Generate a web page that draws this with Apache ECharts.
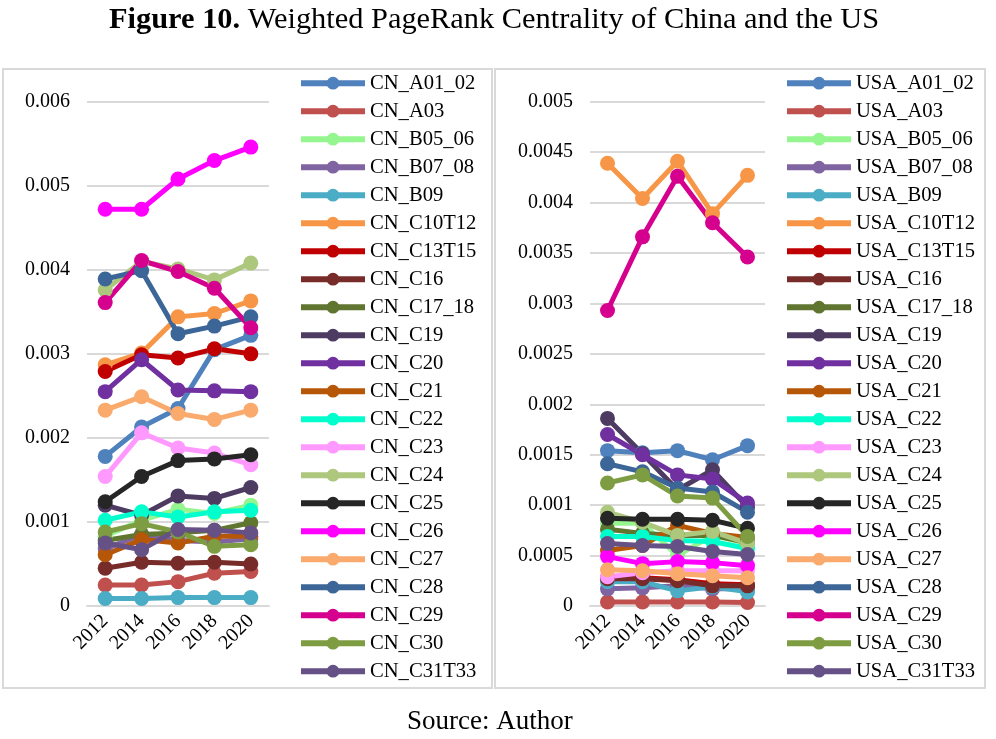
<!DOCTYPE html>
<html>
<head>
  <meta charset="UTF-8">
  <title>Weighted PageRank Centrality</title>
  <script src="https://cdn.jsdelivr.net/npm/echarts@6/dist/echarts.min.js"></script>
  <style>
    html, body { margin: 0; padding: 0; background: #fff; }
    #main { width: 996px; height: 739px; }
  </style>
</head>
<body>
<div id="main"></div>
<script type="text/javascript">
  // 年份
  var years = ['2012', '2014', '2016', '2018', '2020'];

  // 行业代码（两边一样，只是前缀不同）
  var sectors = ['A01_02', 'A03', 'B05_06', 'B07_08', 'B09', 'C10T12', 'C13T15', 'C16', 'C17_18', 'C19',
    'C20', 'C21', 'C22', 'C23', 'C24', 'C25', 'C26', 'C27', 'C28', 'C29', 'C30', 'C31T33'];

  var sectorColors = ['#4F81BD', '#C0504D', '#95F58F', '#8064A2', '#4BACC6', '#F79646', '#C00000', '#772C2A',
    '#5F7530', '#4D3B62', '#7030A0', '#B65708', '#00FFCC', '#FF99FF', '#ADC77D', '#262626',
    '#FF00FF', '#FAAA6C', '#3C6698', '#D6008F', '#7E9D42', '#665186'];

  // 中国 (x 0.001)
  var cnA01_02 = [1.78, 2.13, 2.35, 3.05, 3.22];
  var cnA03    = [0.25, 0.25, 0.29, 0.39, 0.41];
  var cnB05_06 = [0.83, 1.02, 1.15, 1.10, 1.20];
  var cnB07_08 = [0.68, 0.85, 0.78, 0.76, 0.80];
  var cnB09    = [0.09, 0.09, 0.10, 0.10, 0.10];
  var cnC10T12 = [2.87, 3.01, 3.44, 3.48, 3.63];
  var cnC13T15 = [2.79, 2.99, 2.95, 3.06, 3.00];
  var cnC16    = [0.45, 0.52, 0.51, 0.52, 0.50];
  var cnC17_18 = [0.78, 0.85, 0.87, 0.90, 0.99];
  var cnC19    = [1.20, 1.08, 1.31, 1.28, 1.41];
  var cnC20    = [2.55, 2.93, 2.57, 2.56, 2.55];
  var cnC21    = [0.61, 0.79, 0.75, 0.83, 0.83];
  var cnC22    = [1.02, 1.12, 1.06, 1.12, 1.14];
  var cnC23    = [1.54, 2.06, 1.88, 1.82, 1.68];
  var cnC24    = [3.76, 4.10, 4.01, 3.88, 4.08];
  var cnC25    = [1.24, 1.54, 1.73, 1.75, 1.80];
  var cnC26    = [4.72, 4.72, 5.08, 5.30, 5.46];
  var cnC27    = [2.33, 2.49, 2.29, 2.22, 2.33];
  var cnC28    = [3.89, 3.99, 3.24, 3.33, 3.44];
  var cnC29    = [3.61, 4.11, 3.98, 3.78, 3.31];
  var cnC30    = [0.88, 0.98, 0.88, 0.71, 0.73];
  var cnC31T33 = [0.75, 0.67, 0.91, 0.90, 0.87];

  // 美国 (x 0.001)
  var usA01_02 = [1.54, 1.52, 1.54, 1.45, 1.59];
  var usA03    = [0.04, 0.04, 0.04, 0.04, 0.035];
  var usB05_06 = [0.82, 0.82, 0.50, 0.70, 0.62];
  var usB07_08 = [0.17, 0.18, 0.20, 0.17, 0.17];
  var usB09    = [0.24, 0.24, 0.15, 0.19, 0.14];
  var usC10T12 = [4.39, 4.04, 4.41, 3.89, 4.27];
  var usC13T15 = [0.28, 0.28, 0.26, 0.22, 0.21];
  var usC16    = [0.27, 0.27, 0.25, 0.20, 0.20];
  var usC17_18 = [0.76, 0.72, 0.70, 0.70, 0.63];
  var usC19    = [1.86, 1.51, 1.15, 1.35, 0.98];
  var usC20    = [1.70, 1.50, 1.30, 1.26, 1.02];
  var usC21    = [0.55, 0.60, 0.80, 0.72, 0.68];
  var usC22    = [0.69, 0.69, 0.65, 0.64, 0.57];
  var usC23    = [0.29, 0.33, 0.35, 0.35, 0.35];
  var usC24    = [0.93, 0.83, 0.70, 0.74, 0.62];
  var usC25    = [0.87, 0.86, 0.86, 0.85, 0.77];
  var usC26    = [0.49, 0.42, 0.44, 0.43, 0.40];
  var usC27    = [0.36, 0.35, 0.32, 0.30, 0.28];
  var usC28    = [1.41, 1.33, 1.17, 1.13, 0.93];
  var usC29    = [2.93, 3.66, 4.26, 3.80, 3.46];
  var usC30    = [1.22, 1.30, 1.09, 1.07, 0.69];
  var usC31T33 = [0.62, 0.60, 0.59, 0.54, 0.51];

  var cnData = [cnA01_02, cnA03, cnB05_06, cnB07_08, cnB09, cnC10T12, cnC13T15, cnC16, cnC17_18, cnC19,
    cnC20, cnC21, cnC22, cnC23, cnC24, cnC25, cnC26, cnC27, cnC28, cnC29, cnC30, cnC31T33];
  var usData = [usA01_02, usA03, usB05_06, usB07_08, usB09, usC10T12, usC13T15, usC16, usC17_18, usC19,
    usC20, usC21, usC22, usC23, usC24, usC25, usC26, usC27, usC28, usC29, usC30, usC31T33];

  var serif = 'Liberation Serif';
  var myChart = echarts.init(document.getElementById('main'));

  function makeSeries(prefix, arr, idx) {
    return sectors.map(function (s, i) {
      return {
        name: prefix + s,
        type: 'line',
        xAxisIndex: idx,
        yAxisIndex: idx,
        symbol: 'circle',
        symbolSize: 15,
        color: sectorColors[i],
        lineStyle: { width: 5 },
        animation: false,
        data: arr[i].map(function (v) { return +(v / 1000).toFixed(6); })
      };
    });
  }

  function makeLegend(prefix, left) {
    return {
      orient: 'vertical',
      left: left,
      top: 72.7,
      padding: 0,
      itemWidth: 64,
      itemHeight: 16,
      itemGap: 7.0,
      lineStyle: { width: 6 },
      textStyle: { fontFamily: serif, fontSize: 20.6, color: '#000', lineHeight: 20 },
      data: sectors.map(function (s) { return prefix + s; })
    };
  }

  function yAxis(max, interval, gi) {
    return {
      type: 'value', gridIndex: gi, min: 0, max: max, interval: interval,
      axisLine: { show: false }, axisTick: { show: false },
      axisLabel: { fontFamily: serif, fontSize: 20, color: '#000', margin: 17 },
      splitLine: { lineStyle: { color: '#D9D9D9', width: 2 } }
    };
  }

  function xAxis(gi) {
    return {
      type: 'category', gridIndex: gi, data: years, boundaryGap: true,
      axisLine: { lineStyle: { color: '#D9D9D9', width: 2 } },
      axisTick: { show: false },
      axisLabel: { fontFamily: serif, fontSize: 20, color: '#000', rotate: 45, margin: 12, interval: 0 }
    };
  }

  var option = {
    backgroundColor: '#fff',
    title: [{
      text: '{b|Figure 10.} Weighted PageRank Centrality of China and the US',
      left: 104, top: 0,
      textStyle: {
        fontFamily: serif, fontSize: 30.4, fontWeight: 'normal', color: '#000',
        rich: { b: { fontFamily: serif, fontSize: 30.4, fontWeight: 'bold', color: '#000' } }
      }
    }, {
      text: 'Source: Author',
      left: 402, top: 703,
      textStyle: { fontFamily: serif, fontSize: 27, fontWeight: 'normal', color: '#000' }
    }],
    graphic: [
      { type: 'rect', shape: { x: 3, y: 69, width: 489, height: 619 }, style: { fill: 'none', stroke: '#D9D9D9', lineWidth: 2 } },
      { type: 'rect', shape: { x: 495, y: 69, width: 490, height: 619 }, style: { fill: 'none', stroke: '#D9D9D9', lineWidth: 2 } }
    ],
    legend: [makeLegend('CN_', 298), makeLegend('USA_', 784)],
    grid: [
      { left: 87, width: 182, top: 101.7, height: 504.3 },
      { left: 590, width: 175, top: 101.7, height: 504.3 }
    ],
    xAxis: [xAxis(0), xAxis(1)],
    yAxis: [yAxis(0.006, 0.001, 0), yAxis(0.005, 0.0005, 1)],
    series: makeSeries('CN_', cnData, 0).concat(makeSeries('USA_', usData, 1))
  };
  myChart.setOption(option);
</script>
</body>
</html>
